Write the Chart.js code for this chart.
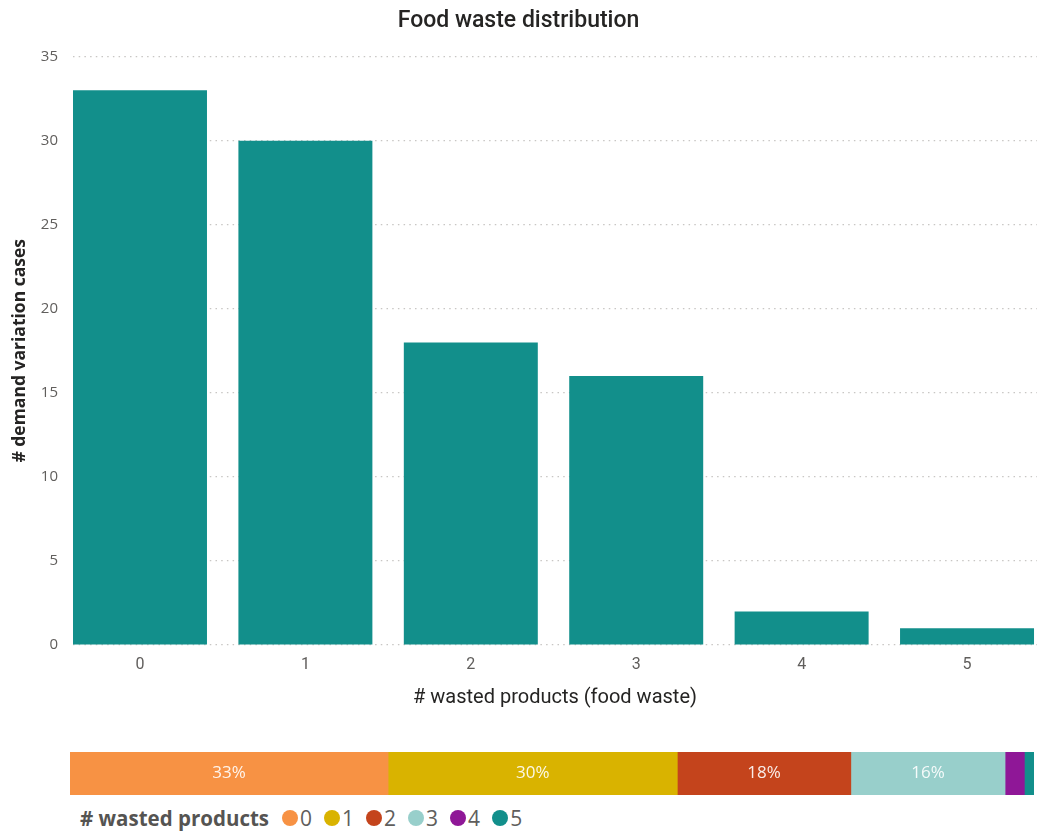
<!DOCTYPE html>
<html>
<head>
<meta charset="utf-8">
<script src="https://cdn.jsdelivr.net/npm/chart.js@4.4.1/dist/chart.umd.min.js"></script>
<style>
  html, body { margin: 0; padding: 0; background: #ffffff; }
  #wrap { position: relative; width: 1037px; height: 836px; overflow: hidden; }
  #main { position: absolute; left: 0; top: 0; }
  #share { position: absolute; left: 0; top: 745px; }
  #legend {
    position: absolute; left: 80px; top: 804px; height: 28px;
    display: flex; align-items: center;
    font-family: "Open Sans", sans-serif; color: #605E5C;
  }
  #legend .ttl { font-weight: 700; font-size: 20.5px; margin-right: 13px; color: #555452; }
  #legend .item { display: flex; align-items: center; margin-right: 12px; font-size: 21px; }
  #legend .dot { width: 16px; height: 16px; border-radius: 50%; margin-right: 2px; }
</style>
</head>
<body>
<div id="wrap">
  <canvas id="main" width="1037" height="710"></canvas>
  <canvas id="share" width="1037" height="57"></canvas>
  <div id="legend"></div>
</div>
<script>
// Number of wasted products per case and how many demand-variation cases fall in each
const categories = ['0', '1', '2', '3', '4', '5'];
const caseCounts = [33, 30, 18, 16, 2, 1];
const yTicks = [0, 5, 10, 15, 20, 25, 30, 35];

const barColor = '#128F8B';
const shareColors = ['#F79244', '#D9B300', '#C4441C', '#98CFCB', '#8F1797', '#128F8B'];

const chartTitle = 'Food waste distribution';
const xTitle = '# wasted products (food waste)';
const yTitle = '# demand variation cases';
const legendTitle = '# wasted products';

const total = caseCounts.reduce((a, b) => a + b, 0);
const shares = caseCounts.map(v => v / total * 100);

// ---- main column chart ----
new Chart(document.getElementById('main'), {
  type: 'bar',
  data: {
    datasets: [{
      data: caseCounts.map((v, i) => ({ x: i, y: v })),
      backgroundColor: barColor,
      borderWidth: 0,
      barPercentage: 0.81,
      categoryPercentage: 1
    }]
  },
  options: {
    responsive: false,
    animation: false,
    devicePixelRatio: 1,
    layout: { padding: { left: 0, right: 0, top: 0, bottom: 0 } },
    plugins: {
      legend: { display: false },
      tooltip: { enabled: false },
      title: {
        display: true,
        text: chartTitle,
        color: '#252423',
        font: { family: 'Roboto', size: 23, weight: '500' },
        padding: { top: 7, bottom: 22 }
      }
    },
    scales: {
      x: {
        type: 'linear',
        offset: false,
        min: -0.405,
        max: 5.423,
        afterFit(scale) { scale.height = 65; },
        afterBuildTicks(scale) {
          scale.ticks = categories.map((c, i) => ({ value: i }));
        },
        ticks: {
          callback: (v) => categories[v],
          color: '#605E5C',
          font: { family: 'Roboto', size: 16 },
          padding: 2,
          maxRotation: 0,
          autoSkip: false
        },
        grid: { display: false, offset: false },
        border: { display: false },
        title: {
          display: true,
          text: xTitle,
          color: '#252423',
          font: { family: 'Roboto', size: 20 },
          padding: { top: 4, bottom: 0 }
        }
      },
      y: {
        min: 0,
        max: 35,
        afterFit(scale) { scale.width = 73; },
        afterBuildTicks(scale) {
          scale.ticks = yTicks.map(v => ({ value: v }));
        },
        ticks: {
          color: '#605E5C',
          font: { family: 'Open Sans', size: 15 },
          padding: 15
        },
        grid: {
          color: '#C8C6C4',
          lineWidth: 1.2,
          drawTicks: false
        },
        border: { display: false, dash: [1.5, 4.2] },
        title: {
          display: true,
          text: yTitle,
          color: '#252423',
          font: { family: 'Open Sans', size: 17.5, weight: '700' },
          padding: { top: 10, bottom: 5 }
        }
      }
    }
  }
});

// ---- 100% share strip ----
const percentLabels = {
  id: 'percentLabels',
  afterDatasetsDraw(chart) {
    const ctx = chart.ctx;
    ctx.save();
    ctx.font = '17px "Open Sans", sans-serif';
    ctx.fillStyle = 'rgba(255,255,255,0.9)';
    ctx.textAlign = 'center';
    ctx.textBaseline = 'middle';
    chart.data.datasets.forEach((ds, i) => {
      const el = chart.getDatasetMeta(i).data[0];
      const w = Math.abs(el.x - el.base);
      const txt = Math.round(ds.data[0]) + '%';
      if (w > ctx.measureText(txt).width + 10) {
        ctx.fillText(txt, (el.x + el.base) / 2, el.y);
      }
    });
    ctx.restore();
  }
};

new Chart(document.getElementById('share'), {
  type: 'bar',
  data: {
    labels: [''],
    datasets: categories.map((c, i) => ({
      label: c,
      data: [shares[i]],
      backgroundColor: shareColors[i],
      borderWidth: 0,
      barPercentage: 1,
      categoryPercentage: 1
    }))
  },
  options: {
    indexAxis: 'y',
    responsive: false,
    animation: false,
    devicePixelRatio: 1,
    layout: { padding: { left: 70, right: 3, top: 7, bottom: 7 } },
    plugins: { legend: { display: false }, tooltip: { enabled: false } },
    scales: {
      x: { stacked: true, min: 0, max: 100, display: false },
      y: { stacked: true, display: false }
    }
  },
  plugins: [percentLabels]
});

// ---- legend row ----
const legend = document.getElementById('legend');
const t = document.createElement('span');
t.className = 'ttl';
t.textContent = legendTitle;
legend.appendChild(t);
categories.forEach((c, i) => {
  const item = document.createElement('span');
  item.className = 'item';
  const dot = document.createElement('span');
  dot.className = 'dot';
  dot.style.background = shareColors[i];
  const lab = document.createElement('span');
  lab.textContent = c;
  item.appendChild(dot);
  item.appendChild(lab);
  legend.appendChild(item);
});
</script>
</body>
</html>
